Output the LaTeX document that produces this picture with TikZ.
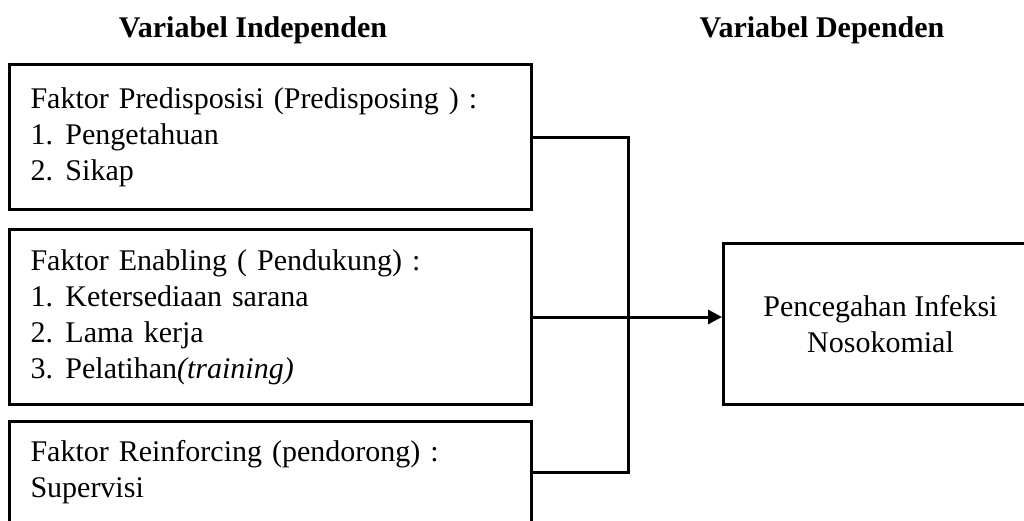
\documentclass[tikz,border=0pt]{standalone}
\usepackage{fontspec}
\setmainfont{Liberation Serif}
\usetikzlibrary{arrows.meta}
\tikzset{
	factor/.style = {draw, line width=3pt, rectangle, anchor=north west, align=left,
		text width=480pt, inner sep=0pt, minimum width=522pt, minimum height=#1,
		font=\fontsize{30}{36}\selectfont},
	header/.style = {font=\fontsize{30}{34}\selectfont\bfseries},
	link/.style = {line width=3pt}
}
\newcommand{\itm}[1]{\makebox[35pt][l]{#1}}
\begin{document}
\begin{tikzpicture}[x=1pt, y=-1pt]
	\clip (0,0) rectangle (1024,520);
	\fill[white] (0,0) rectangle (1024,520);
	
	\node[header](hind) at (253,30) {Variabel Independen};
	\node[header](hdep) at (822,30) {Variabel Dependen};
	
	\node[factor=145pt](pre) at (8,63) {Faktor Predisposisi (Predisposing ) :\\
		\itm{1.}Pengetahuan\\ \itm{2.}Sikap};
	\node[factor=175pt](ena) at (8,228) {Faktor Enabling ( Pendukung) :\\
		\itm{1.}Ketersediaan sarana\\ \itm{2.}Lama kerja\\
		\itm{3.}Pelatihan\textit{(training)}};
	\node[factor=102pt](rei) at (8,420) {Faktor Reinforcing (pendorong) :\\ Supervisi};
	
	\node[draw, line width=3pt, anchor=north west, minimum width=314pt, minimum height=161pt,
		align=center, font=\fontsize{30}{36}\selectfont](out) at (722,242)
		{Pencegahan Infeksi\\ Nosokomial};
	
	\coordinate[](bus) at (628,0);
	\draw[link] (pre.east) -| (bus |- rei.east) -- (rei.east);
	\draw[link, -{Triangle[length=14pt, width=14pt]}] (ena.east) -- (ena.east -| out.west);
\end{tikzpicture}
\end{document}
